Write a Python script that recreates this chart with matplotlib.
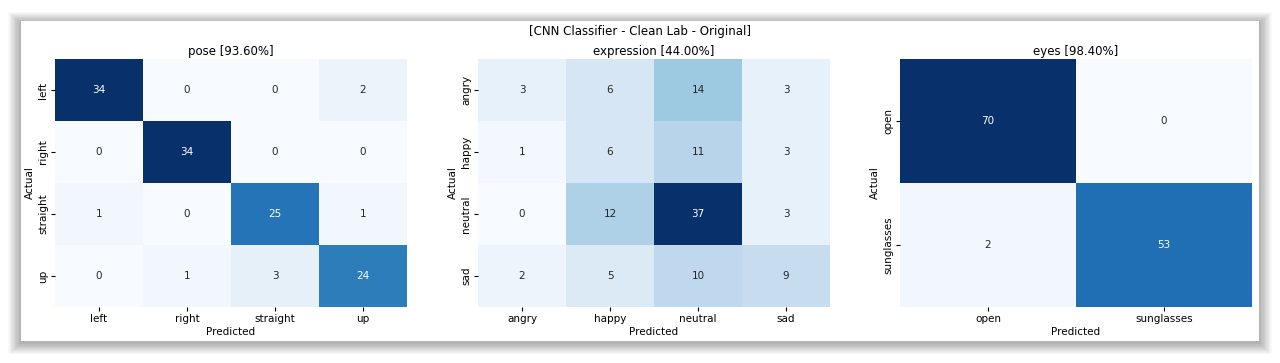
import matplotlib
matplotlib.use('Agg')
import matplotlib.pyplot as plt, numpy as np, seaborn as sns
from matplotlib.patches import Rectangle

# Confusion matrices
pose_labels = ['left', 'right', 'straight', 'up']
pose_cm = [[34, 0, 0, 2],
           [0, 34, 0, 0],
           [1, 0, 25, 1],
           [0, 1, 3, 24]]
pose_acc = 93.60

expr_labels = ['angry', 'happy', 'neutral', 'sad']
expr_cm = [[3, 6, 14, 3],
           [1, 6, 11, 3],
           [0, 12, 37, 3],
           [2, 5, 10, 9]]
expr_acc = 44.00

eyes_labels = ['open', 'sunglasses']
eyes_cm = [[70, 0],
           [2, 53]]
eyes_acc = 98.40

W, H = 1280, 363
fig = plt.figure(figsize=(W / 100, H / 100), dpi=100)

# Window-like soft drop shadow behind a white panel
bg = fig.add_axes([0, 0, 1, 1], zorder=-10)
bg.set_xlim(0, W)
bg.set_ylim(H, 0)
bg.axis('off')
x0, y0, x1, y1 = 21, 21, 1259, 341
for k in range(16, 0, -1):
    bg.add_patch(Rectangle((x0 - k * 0.8, y0 - k * 0.7 + 2), (x1 - x0) + 1.6 * k, (y1 - y0) + 1.4 * k,
                           facecolor='black', edgecolor='none', alpha=0.018, linewidth=0))
bg.add_patch(Rectangle((x0, y0), x1 - x0, y1 - y0, facecolor='white', edgecolor='none'))

panels = [(pose_cm, pose_labels, 'pose', pose_acc, 55),
          (expr_cm, expr_labels, 'expression', expr_acc, 478),
          (eyes_cm, eyes_labels, 'eyes', eyes_acc, 900)]

for cm, labels, name, acc, left in panels:
    ax = fig.add_axes([left / W, 1 - 307 / H, 352 / W, (307 - 59) / H])
    sns.heatmap(np.array(cm), annot=True, fmt='d', cmap='Blues', cbar=False,
                xticklabels=labels, yticklabels=labels, ax=ax,
                annot_kws={'fontsize': 7.5})
    ax.set_title(f'{name} [{acc:.2f}%]', fontsize=8.5, pad=3)
    ax.set_xlabel('Predicted', fontsize=7.5, labelpad=2)
    ax.set_ylabel('Actual', fontsize=7.5, labelpad=2)
    ax.tick_params(labelsize=7.5, length=3, pad=2)
    plt.setp(ax.get_yticklabels(), rotation=90, va='center')

fig.text(0.5, 1 - 32 / H, '[CNN Classifier - Clean Lab - Original]', ha='center', va='center', fontsize=8.5)

plt.savefig('out.png', dpi=100)
